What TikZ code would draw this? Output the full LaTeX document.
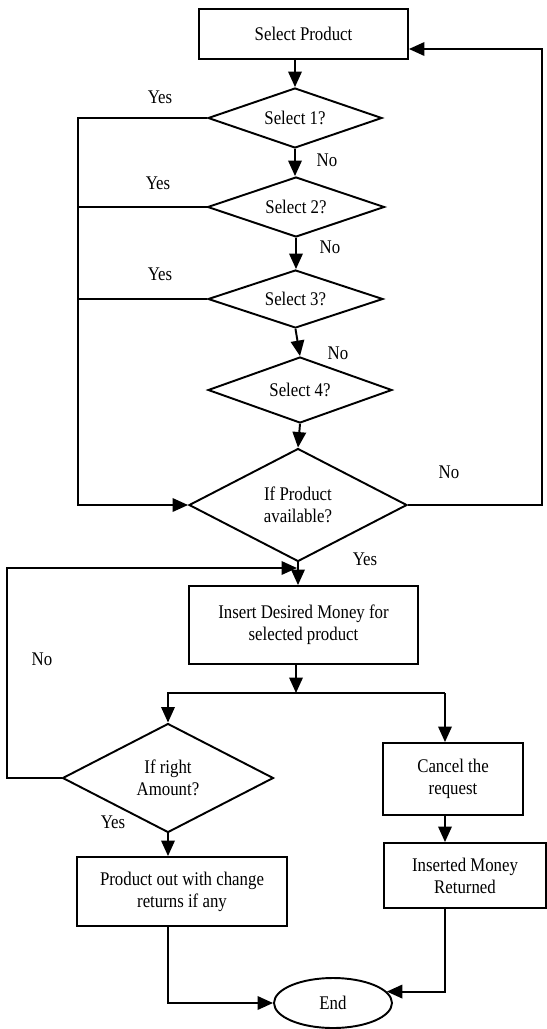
\documentclass[tikz,border=0pt]{standalone}
\usepackage{fontspec}
\setmainfont{Liberation Serif}[FakeStretch=0.87]
\usepackage{tikz}
\usetikzlibrary{shapes.geometric,arrows.meta}

\tikzset{
  procbox/.style={draw, line width=1.1pt, rectangle, inner sep=0pt, align=center},
  decision/.style={draw, line width=1.1pt, diamond, shape aspect=2, inner sep=0pt, align=center},
  terminal/.style={draw, line width=1.1pt, ellipse, inner sep=0pt},
  arr/.style={line width=1.1pt, -{Triangle[length=0.31cm,width=0.27cm]}},
  wire/.style={line width=1.1pt},
  lbl/.style={inner sep=0pt}
}

\begin{document}
\begin{tikzpicture}[x=0.02cm, y=-0.02cm, font=\fontsize{11}{12.5}\selectfont]
\useasboundingbox (0,0) rectangle (547,1029);
\node[procbox, minimum width=4.18cm, minimum height=1.0cm] (sel) at (303.5,34) {Select Product}; % Box.0
\node[decision, minimum width=3.48cm, minimum height=1.2cm] (s1) at (295,118) {Select 1?}; % Select.1
\node[decision, minimum width=3.54cm, minimum height=1.2cm] (s2) at (296,207) {Select 2?}; % Select.2
\node[decision, minimum width=3.5cm, minimum height=1.16cm] (s3) at (295.5,299) {Select 3?}; % Select.3
\node[decision, minimum width=3.68cm, minimum height=1.32cm] (s4) at (300,390) {Select 4?}; % Select.4
\node[decision, minimum width=4.36cm, minimum height=2.26cm] (avail) at (298,505) {If Product\\available?}; % Check.0
\node[procbox, minimum width=4.58cm, minimum height=1.56cm] (money) at (303.5,625) {Insert Desired Money for\\selected product}; % Box.1
\node[decision, minimum width=4.22cm, minimum height=2.18cm] (amount) at (168,778) {If right\\Amount?}; % Check.1
\node[procbox, minimum width=2.8cm, minimum height=1.44cm] (cancel) at (453,779) {Cancel the\\request}; % Box.2
\node[procbox, minimum width=3.24cm, minimum height=1.3cm] (back) at (465,875.5) {Inserted Money\\Returned}; % Box.3
\node[procbox, minimum width=4.2cm, minimum height=1.38cm] (prod) at (182,891.5) {Product out with change\\returns if any}; % Box.4
\node[terminal, minimum width=2.36cm, minimum height=1.0cm] (end) at (333,1003) {End}; % End

\coordinate (yesL) at (78,118); % Yes.rail
\coordinate (noR) at (542,49); % No.rail
\coordinate (noL) at (7,568); % No.loop
\coordinate (join) at (297,568); % No.loop
\coordinate (split) at (296,693); % Split
\coordinate (cR) at (445,693); % Split.right

\draw[arr] (s1.north |- sel.south) -- (s1.north); % sel-s1
\draw[arr] (s1.south) -- (s1.south |- s2.north); % s1-s2
\draw[arr] (s2.south) -- (s2.south |- s3.north); % s2-s3
\draw[arr] (s3.south) -- (s4.north); % s3-s4
\draw[arr] (s4.south) -- (avail.north); % s4-avail
\draw[arr] (s1.west) -- (yesL) |- (avail.west); % yes rail
\draw[wire] (s2.west) -- (s2.west -| yesL); % yes 2
\draw[wire] (s3.west) -- (s3.west -| yesL); % yes 3
\draw[arr] (avail.east) -| (noR) -- (noR -| sel.east); % no back
\draw[arr] (avail.south) -- (avail.south |- money.north); % yes down
\draw[arr] (amount.west) -| (noL) -- (join); % no amount
\draw[arr] (split |- money.south) -- (split); % money-split
\draw[arr] (split) -| (amount.north); % split left
\draw[wire] (split) -- (cR); % split right
\draw[arr] (cR) -- (cR |- cancel.north); % split-cancel
\draw[arr] (cR |- cancel.south) -- (cR |- back.north); % cancel-back
\draw[arr] (amount.south) -- (amount.south |- prod.north); % amount-prod
\draw[arr] (amount.south |- prod.south) |- (end.west); % prod-end
\draw[arr] (cR |- back.south) |- (end.12); % back-end

\node[lbl] (y1) at (160,97) {Yes}; % Yes.1
\node[lbl] (y2) at (158,183) {Yes}; % Yes.2
\node[lbl] (y3) at (160,274) {Yes}; % Yes.3
\node[lbl] (y4) at (365,559) {Yes}; % Yes.4
\node[lbl] (y5) at (113,822) {Yes}; % Yes.5
\node[lbl] (n1) at (327,160) {No}; % No.1
\node[lbl] (n2) at (330,247) {No}; % No.2
\node[lbl] (n3) at (338,353) {No}; % No.3
\node[lbl] (n4) at (449,472) {No}; % No.4
\node[lbl] (n5) at (42,659) {No}; % No.5
\end{tikzpicture}
\end{document}
